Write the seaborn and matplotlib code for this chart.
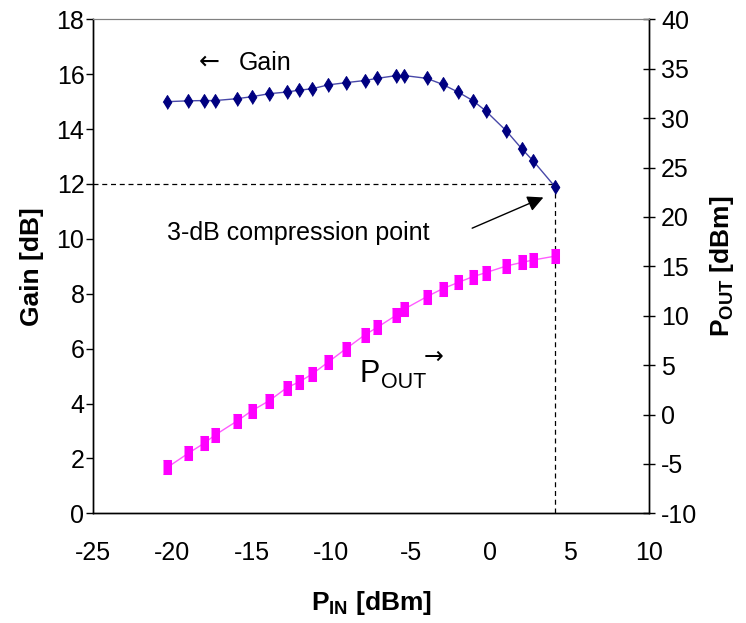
import numpy as np
import pandas as pd
import seaborn as sns
import matplotlib.pyplot as plt

# values
pin = [-20.3, -19.0, -18.0, -17.3, -15.9, -15.0, -13.9, -12.8, -12.0, -11.2,
       -10.2, -9.1, -7.9, -7.1, -5.9, -5.4, -4.0, -3.0, -2.0, -1.1,
       -0.3, 1.0, 2.0, 2.7, 4.1]
gain = [15.0, 15.03, 15.04, 15.04, 15.11, 15.18, 15.29, 15.35, 15.42, 15.47,
        15.61, 15.69, 15.77, 15.85, 15.95, 15.95, 15.85, 15.63, 15.34, 15.04,
        14.67, 13.94, 13.27, 12.84, 11.88]
pout = [-5.34, -3.93, -2.91, -2.07, -0.63, 0.38, 1.40, 2.71, 3.32, 4.1,
        5.3, 6.63, 8.05, 8.83, 10.07, 10.68, 11.92, 12.73, 13.38, 13.95,
        14.35, 15.03, 15.4, 15.64, 16.04]
comp_pin = 4.1
comp_gain = 12

xticks = list(range(-25, 11, 5))
gain_ticks = list(range(0, 19, 2))
pout_ticks = list(range(-10, 41, 5))

df = pd.DataFrame({"pin": pin, "gain": gain, "pout": pout})

sns.set_style("white")
plt.rcParams['font.family'] = ['Liberation Sans', 'DejaVu Sans']
plt.rcParams['axes.unicode_minus'] = False
plt.rcParams['mathtext.fontset'] = 'custom'
plt.rcParams['mathtext.rm'] = 'Liberation Sans'
plt.rcParams['mathtext.bf'] = 'Liberation Sans:bold'
plt.rcParams['text.color'] = 'black'
plt.rcParams['axes.labelcolor'] = 'black'
plt.rcParams['xtick.color'] = 'black'
plt.rcParams['ytick.color'] = 'black'

fig = plt.figure(figsize=(7.46, 6.23), dpi=100)
ax = fig.add_axes([0.1243, 0.176, 0.7461, 0.793])
ax2 = ax.twinx()

diamond = [(0, -1), (0.62, 0), (0, 1), (-0.62, 0)]
rect = [(-0.3, -0.5), (0.3, -0.5), (0.3, 0.5), (-0.3, 0.5)]

# dashed guides to the compression point
ax.plot([-25, comp_pin], [comp_gain, comp_gain], ls=(0, (4, 3)), color="black", lw=0.9)
ax.plot([comp_pin, comp_pin], [0, comp_gain], ls=(0, (4, 3)), color="black", lw=0.9)

sns.lineplot(data=df, x="pin", y="gain", ax=ax, color="#4848a8", lw=1,
             marker=diamond, markersize=10, markerfacecolor="#000080",
             markeredgecolor="#000080", zorder=3)
sns.lineplot(data=df, x="pin", y="pout", ax=ax2, color="#ff5cff", lw=1,
             marker=rect, markersize=9.5, markerfacecolor="#ff00ff",
             markeredgecolor="#ff00ff", zorder=3)

ax.set_xlim(-25, 10)
ax.set_ylim(0, 18)
ax2.set_ylim(-10, 40)
ax.set_xticks(xticks)
ax.set_yticks(gain_ticks)
ax2.set_yticks(pout_ticks)

for a in (ax, ax2):
    for s in a.spines.values():
        s.set_color("black")
        s.set_linewidth(1)
    a.spines["top"].set_color("#808080")
    a.spines["top"].set_linewidth(0.8)

ax.tick_params(axis="x", direction="out", length=6, width=1, labelsize=18, pad=14)
ax.tick_params(axis="y", direction="out", length=5, width=1, labelsize=18, pad=1)
ax2.tick_params(axis="y", direction="inout", length=9, width=1, labelsize=18, pad=4)

ax.set_xlabel(r"P$_{\mathbf{IN}}$ [dBm]", fontsize=19, fontweight="bold", labelpad=17)
ax.set_ylabel("Gain [dB]", fontsize=19, fontweight="bold", labelpad=9)
ax2.set_ylabel(r"P$_{\mathbf{OUT}}$ [dBm]", fontsize=19, fontweight="bold",
               rotation=90, labelpad=8)

ax.text(-18.3, 16.45, "\u2190", fontsize=18, va="center", ha="left", family="DejaVu Sans")
ax.text(-15.8, 16.4, "Gain", fontsize=18, va="center", ha="left")
ax.text(-20.3, 10.2, "3-dB compression point", fontsize=18, va="center", ha="left")
ax.annotate("", xy=(3.5, 11.55), xytext=(-1.3, 10.35),
            arrowprops=dict(arrowstyle="-|>", mutation_scale=24, color="black", lw=1))
ax.text(-8.2, 4.8, "P", fontsize=22, va="baseline", ha="left")
ax.text(-6.9, 4.55, "OUT", fontsize=15.5, va="baseline", ha="left")
ax.text(-4.2, 5.7, "\u2192", fontsize=17, va="center", ha="left", family="DejaVu Sans")

fig.savefig("out.png", dpi=100)
